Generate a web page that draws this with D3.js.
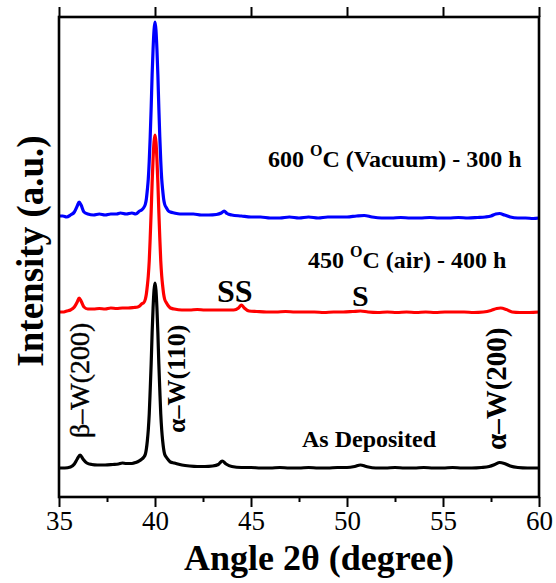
<!DOCTYPE html>
<html>
<head>
<meta charset="utf-8">
<script src="https://cdn.jsdelivr.net/npm/d3@7"></script>
<style>
  body { margin: 0; background: #fff; }
  text { font-family: "Liberation Serif", "Times New Roman", serif; }
</style>
</head>
<body>
<div id="xrdChart"></div>
<script>
// angle (2 theta) , intensity (a.u.)
var vacuum600 = [
  [35.0,281],[35.2,281],[35.4,280],[35.6,282],[35.8,285],[35.95,291],[36.05,295],[36.15,292],
  [36.3,285],[36.5,283],[36.8,282],[37.1,283],[37.4,282],[37.7,283],[38.0,283],[38.2,284],
  [38.5,283],[38.8,284],[39.0,283],[39.2,286],[39.3,287],[39.4,289],[39.5,293],[39.55,298],
  [39.6,307],[39.65,318],[39.7,336],[39.75,360],[39.8,389],[39.85,422],[39.9,448],[39.95,467],
  [40.0,475],[40.05,467],[40.1,448],[40.15,422],[40.2,389],[40.25,360],[40.3,336],[40.35,318],
  [40.4,307],[40.45,298],[40.5,293],[40.6,289],[40.7,286],[40.8,285],[41.0,284],[41.3,283],
  [41.6,283],[42.0,283],[42.4,282],[42.8,282],[43.2,282.5],[43.45,284],[43.6,286],[43.75,283.5],
  [44.0,282],[44.5,281],[45.0,280],[45.5,280],[46.0,279],[46.5,279],[47.0,280],[47.5,279],
  [48.0,280],[48.5,279],[49.0,280],[49.5,280],[50.0,280],[50.5,281],[50.9,281.5],[51.3,280],
  [51.8,279],[52.3,279],[52.8,279.5],[53.3,279],[53.8,279],[54.3,279.5],[54.8,279],[55.3,279],
  [55.8,279.5],[56.3,279],[56.8,279.5],[57.2,280],[57.5,281],[57.75,283],[57.95,283.5],[58.2,282],
  [58.5,280],[58.9,279],[59.3,279],[59.7,278.5],[60.0,279]
];

var air450 = [
  [35.0,185],[35.2,185],[35.4,186],[35.6,187],[35.8,190],[35.95,195],[36.05,199],[36.15,196],
  [36.3,190],[36.5,188],[36.8,188],[37.1,188.5],[37.4,188],[37.7,189],[38.0,188.5],[38.3,189],
  [38.6,189],[38.9,189.5],[39.1,190],[39.2,191],[39.3,193],[39.4,194],[39.5,198],[39.55,203],
  [39.6,211],[39.65,221],[39.7,236],[39.75,259],[39.8,285],[39.85,314],[39.9,338],[39.95,355],
  [40.0,362],[40.05,355],[40.1,338],[40.15,314],[40.2,285],[40.25,259],[40.3,236],[40.35,221],
  [40.4,211],[40.45,203],[40.5,198],[40.6,194],[40.7,191],[40.8,189],[41.0,188],[41.4,187],
  [41.8,187],[42.2,187.5],[42.6,187],[43.0,187],[43.4,187],[43.8,187],[44.1,187],[44.35,189],
  [44.5,192],[44.65,189],[44.9,186],[45.3,185.5],[45.8,185],[46.3,185],[46.8,185.5],[47.3,185],
  [47.8,185],[48.3,185],[48.8,184.5],[49.3,185],[49.8,185],[50.3,185.5],[50.7,186],[51.1,185],
  [51.6,184.5],[52.1,185],[52.6,184.5],[53.1,185],[53.6,184.5],[54.1,185],[54.6,184.5],[55.1,185],
  [55.6,185],[56.1,185],[56.6,184.5],[57.1,185],[57.5,186.5],[57.8,188.5],[58.0,189],[58.3,187.5],
  [58.6,185],[59.0,184.5],[59.5,184.5],[60.0,185]
];

var asDeposited = [
  [35.0,29],[35.3,29],[35.6,30],[35.8,33],[35.95,38],[36.1,42],[36.25,38],[36.45,34],
  [36.7,32.5],[37.0,32],[37.4,32],[37.8,32.5],[38.1,33],[38.3,34],[38.5,33.5],[38.8,33.5],
  [39.0,34.5],[39.2,36.4],[39.3,37.7],[39.4,39.5],[39.5,43],[39.55,48],[39.6,56],[39.65,67],
  [39.7,83],[39.75,107],[39.8,133],[39.85,164],[39.9,189],[39.95,207],[40.0,214],[40.05,207],
  [40.1,189],[40.15,164],[40.2,133],[40.25,107],[40.3,83],[40.35,67],[40.4,56],[40.45,48],
  [40.5,43],[40.6,39.5],[40.7,37],[40.8,35],[41.0,34],[41.4,32],[41.8,31],[42.2,30.5],
  [42.6,30.5],[43.0,31],[43.3,32.5],[43.5,36],[43.7,33],[44.0,30.5],[44.5,29.5],[45.0,29.5],
  [45.5,29],[46.0,29],[46.5,29.5],[47.0,29],[47.5,29],[48.0,29.5],[48.5,29],[49.0,29],
  [49.5,29.5],[50.0,29.5],[50.4,30.5],[50.7,32],[51.0,30.5],[51.5,29],[52.0,29],[52.5,29.5],
  [53.0,29],[53.5,29],[54.0,29.5],[54.5,29],[55.0,29],[55.5,29.5],[56.0,29],[56.5,29],
  [57.0,29.5],[57.4,30.5],[57.7,32.5],[57.95,34.5],[58.2,33.5],[58.5,31],[58.9,29.5],[59.4,29],
  [60.0,29]
];

var majorTicks = [35, 40, 45, 50, 55, 60];
var minorTicks = [37.5, 42.5, 47.5, 52.5, 57.5];

document.addEventListener('DOMContentLoaded', function(){
  drawChart();
});

function drawChart() {
  var width = 556, height = 583;
  var m = {left: 59, right: 17, top: 17, bottom: 86};

  var svg = d3.select("#xrdChart").append("svg")
    .attr("width", width).attr("height", height);

  var x = d3.scaleLinear().domain([35, 60]).range([m.left, width - m.right]);
  var y = d3.scaleLinear().domain([0, 480]).range([height - m.bottom, m.top]);

  var line = d3.line()
    .x(function(d) { return x(d[0]); })
    .y(function(d) { return y(d[1]); })
    .curve(d3.curveMonotoneX);

  var series = [
    {data: asDeposited, color: "#000000"},
    {data: air450, color: "#ff0000"},
    {data: vacuum600, color: "#0000ff"}
  ];

  svg.selectAll("path.trace").data(series).enter().append("path")
    .attr("class", "trace")
    .attr("d", function(s) { return line(s.data); })
    .attr("fill", "none")
    .attr("stroke", function(s) { return s.color; })
    .attr("stroke-width", 3.2)
    .attr("stroke-linejoin", "round");

  // bottom axis, major + minor
  var bottom = svg.append("g").attr("transform", "translate(0," + (height - m.bottom) + ")");
  bottom.call(d3.axisBottom(x).tickValues(majorTicks).tickSize(10).tickPadding(4).tickFormat(d3.format("d")));
  bottom.append("g").call(d3.axisBottom(x).tickValues(minorTicks).tickSize(5).tickFormat(""));

  var top = svg.append("g").attr("transform", "translate(0," + m.top + ")");
  top.call(d3.axisTop(x).tickValues(majorTicks).tickSize(10).tickFormat(""));

  svg.selectAll(".domain").remove();
  svg.selectAll(".tick line").attr("stroke", "#000").attr("stroke-width", 2);
  bottom.selectAll(".tick text")
    .attr("font-size", 27)
    .attr("fill", "#000")
    .style("font-family", "Liberation Serif");

  // frame
  svg.append("rect")
    .attr("x", x(35)).attr("y", y(480))
    .attr("width", x(60) - x(35)).attr("height", y(0) - y(480))
    .attr("fill", "none").attr("stroke", "#000").attr("stroke-width", 2.6);

  // axis titles
  svg.append("text")
    .attr("x", 319).attr("y", 570)
    .attr("text-anchor", "middle")
    .attr("font-size", 36).attr("font-weight", "bold")
    .text("Angle 2θ (degree)");

  svg.append("text")
    .attr("transform", "translate(43,251) rotate(-90)")
    .attr("text-anchor", "middle")
    .attr("font-size", 37).attr("font-weight", "bold")
    .text("Intensity (a.u.)");

  // curve labels
  function tempLabel(xp, yp, a, b) {
    var t = svg.append("text").attr("x", xp).attr("y", yp)
      .attr("font-size", 24).attr("font-weight", "bold");
    t.append("tspan").text(a + " ");
    t.append("tspan").attr("dy", -11).attr("font-size", 16).text("O");
    t.append("tspan").attr("dy", 11).text(b);
  }
  tempLabel(268, 167, "600", "C (Vacuum) - 300 h");
  tempLabel(308, 268, "450", "C (air) - 400 h");

  svg.append("text").attr("x", 302).attr("y", 447)
    .attr("font-size", 24).attr("font-weight", "bold").text("As Deposited");

  svg.append("text").attr("x", 217).attr("y", 302)
    .attr("font-size", 32).attr("font-weight", "bold").text("SS");
  svg.append("text").attr("x", 352).attr("y", 306)
    .attr("font-size", 30).attr("font-weight", "bold").text("S");

  // peak labels, rotated
  svg.append("text").attr("transform", "translate(89,438) rotate(-90)")
    .attr("font-size", 28).attr("stroke", "#000").attr("stroke-width", 0.4)
    .text("β\u2013W(200)");
  svg.append("text").attr("transform", "translate(185,433) rotate(-90)")
    .attr("font-size", 26).attr("font-weight", "bold").text("α\u2013W(110)");
  svg.append("text").attr("transform", "translate(506,450) rotate(-90)")
    .attr("font-size", 29).attr("font-weight", "bold").text("α\u2013W(200)");
}
</script>
</body>
</html>
